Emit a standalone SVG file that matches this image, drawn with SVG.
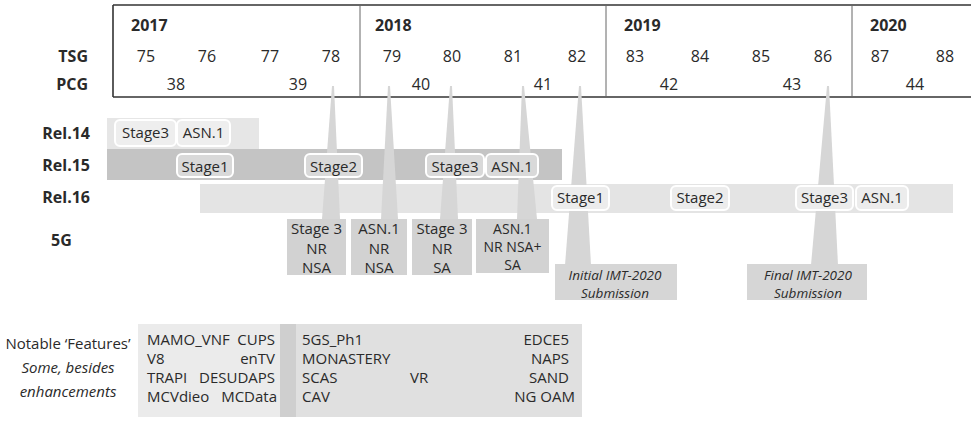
<svg xmlns="http://www.w3.org/2000/svg" width="971" height="421" viewBox="0 0 971 421">
<style>
text{font-family:"Open Sans","Noto Sans",sans-serif;fill:#2a2a2a}
.b{font-weight:bold;font-size:16px}
.h{font-size:16px;text-anchor:middle}
.y{font-weight:bold;font-size:16px}
.p{font-size:15px;text-anchor:middle}
.q{font-size:14px;text-anchor:middle}
.f{font-size:15px}
.i{font-size:13.5px;font-style:italic;text-anchor:middle}
.pill{stroke:#fff;stroke-width:2}
.wedge{fill:#d6d6d6}
.box{fill:#d2d2d2}
</style>
<rect width="971" height="421" fill="#fff"/>
<g id="header">
<line x1="113" y1="5" x2="971" y2="5" stroke="#333" stroke-width="1.6"/>
<line x1="113" y1="97" x2="971" y2="97" stroke="#333" stroke-width="1.6"/>
<line x1="113" y1="5" x2="113" y2="97" stroke="#333" stroke-width="1.6"/>
<line x1="360" y1="5" x2="360" y2="97" stroke="#666" stroke-width="1"/>
<line x1="606" y1="5" x2="606" y2="97" stroke="#666" stroke-width="1"/>
<line x1="852" y1="5" x2="852" y2="97" stroke="#666" stroke-width="1"/>
<text class="y" x="131" y="31">2017</text>
<text class="y" x="375" y="31">2018</text>
<text class="y" x="624" y="31">2019</text>
<text class="y" x="870" y="31">2020</text>
<text class="b" x="88" y="62" text-anchor="end">TSG</text>
<text class="b" x="88" y="90" text-anchor="end">PCG</text>
<text class="h" x="146" y="62">75</text>
<text class="h" x="207" y="62">76</text>
<text class="h" x="270" y="62">77</text>
<text class="h" x="331" y="62">78</text>
<text class="h" x="392" y="62">79</text>
<text class="h" x="452" y="62">80</text>
<text class="h" x="513" y="62">81</text>
<text class="h" x="577" y="62">82</text>
<text class="h" x="635" y="62">83</text>
<text class="h" x="700" y="62">84</text>
<text class="h" x="761" y="62">85</text>
<text class="h" x="823" y="62">86</text>
<text class="h" x="880" y="62">87</text>
<text class="h" x="945" y="62">88</text>
<text class="h" x="176" y="90">38</text>
<text class="h" x="298" y="90">39</text>
<text class="h" x="421" y="90">40</text>
<text class="h" x="543" y="90">41</text>
<text class="h" x="669" y="90">42</text>
<text class="h" x="792" y="90">43</text>
<text class="h" x="915" y="90">44</text>
</g>
<g id="rel14">
<text class="b" x="90" y="139" text-anchor="end">Rel.14</text>
<rect x="107" y="118" width="152" height="31" fill="#e6e6e6"/>
</g>
<g id="rel15">
<text class="b" x="90" y="171" text-anchor="end">Rel.15</text>
<rect x="107" y="149" width="455" height="31" fill="#c4c4c4"/>
</g>
<g id="rel16">
<text class="b" x="90" y="203" text-anchor="end">Rel.16</text>
<rect x="200" y="184" width="753" height="29" fill="#e4e4e4"/>
</g>
<g id="connectors">
<polygon class="wedge" points="332,86 334,86 340,219 322,219"/>
<polygon class="wedge" points="388,86 390,86 398,219 381,219"/>
<polygon class="wedge" points="450,86 452,86 458,219 440,219"/>
<polygon class="wedge" points="522,86 524,86 537,219 517,219"/>
<polygon class="wedge" points="579,86 581,86 591,265 565,265"/>
<polygon class="wedge" points="827,86 829,86 838,265 811,265"/>
</g>
<g id="rel14-pills">
<rect class="pill" x="115" y="120" width="61" height="26" rx="5" fill="#eeeeee"/>
<text class="p" x="145.5" y="138">Stage3</text>
<rect class="pill" x="177" y="120" width="53" height="26" rx="5" fill="#eeeeee"/>
<text class="p" x="203.5" y="138">ASN.1</text>
</g>
<g id="rel15-pills">
<rect class="pill" x="177" y="154" width="56" height="23" rx="5" fill="#d9d9d9"/>
<text class="p" x="205" y="172">Stage1</text>
<rect class="pill" x="305" y="154" width="57" height="23" rx="5" fill="#d9d9d9"/>
<text class="p" x="333.5" y="172">Stage2</text>
<rect class="pill" x="426" y="154" width="58" height="23" rx="5" fill="#d9d9d9"/>
<text class="p" x="455" y="172">Stage3</text>
<rect class="pill" x="486" y="154" width="52" height="23" rx="5" fill="#d9d9d9"/>
<text class="p" x="512" y="172">ASN.1</text>
</g>
<g id="rel16-pills">
<rect class="pill" x="552" y="186" width="57" height="24" rx="5" fill="#ececec"/>
<text class="p" x="580.5" y="203">Stage1</text>
<rect class="pill" x="671" y="186" width="58" height="24" rx="5" fill="#ececec"/>
<text class="p" x="700" y="203">Stage2</text>
<rect class="pill" x="796" y="186" width="57" height="24" rx="5" fill="#ececec"/>
<text class="p" x="824.5" y="203">Stage3</text>
<rect class="pill" x="856" y="186" width="52" height="24" rx="5" fill="#ececec"/>
<text class="p" x="882" y="203">ASN.1</text>
</g>
<g id="label-5g">
<text class="b" x="51" y="246">5G</text>
</g>
<g id="g5-stage3-nsa">
<rect class="box" x="287" y="219" width="59" height="56"/>
<text class="p" x="316.5" y="234">Stage 3</text>
<text class="p" x="316.5" y="254">NR</text>
<text class="p" x="316.5" y="273">NSA</text>
</g>
<g id="g5-asn1-nsa">
<rect class="box" x="351" y="219" width="56" height="56"/>
<text class="p" x="379" y="234">ASN.1</text>
<text class="p" x="379" y="254">NR</text>
<text class="p" x="379" y="273">NSA</text>
</g>
<g id="g5-stage3-sa">
<rect class="box" x="412" y="219" width="60" height="56"/>
<text class="p" x="442" y="234">Stage 3</text>
<text class="p" x="442" y="254">NR</text>
<text class="p" x="442" y="273">SA</text>
</g>
<g id="g5-asn1-nsasa">
<rect class="box" x="476" y="219" width="73" height="54"/>
<text class="q" x="512.5" y="234">ASN.1</text>
<text class="q" x="512.5" y="252">NR NSA+</text>
<text class="q" x="512.5" y="270">SA</text>
</g>
<g id="imt-initial">
<rect x="555" y="264" width="122" height="36" fill="#d6d6d6"/>
<text class="i" x="615" y="280">Initial IMT-2020</text>
<text class="i" x="615" y="298">Submission</text>
</g>
<g id="imt-final">
<rect x="747" y="264" width="120" height="36" fill="#d6d6d6"/>
<text class="i" x="808" y="280">Final IMT-2020</text>
<text class="i" x="808" y="298">Submission</text>
</g>
<g id="features-label">
<text class="f" x="68" y="349" text-anchor="middle">Notable ‘Features’</text>
<text class="f" x="68" y="373" text-anchor="middle" font-style="italic">Some, besides</text>
<text class="f" x="68" y="397" text-anchor="middle" font-style="italic">enhancements</text>
</g>
<g id="features-rel15">
<rect x="138" y="324" width="142" height="93" fill="#ebebeb"/>
<text class="f" x="147" y="345">MAMO_VNF</text>
<text class="f" x="275" y="345" text-anchor="end">CUPS</text>
<text class="f" x="147" y="364">V8</text>
<text class="f" x="275" y="364" text-anchor="end">enTV</text>
<text class="f" x="147" y="383">TRAPI</text>
<text class="f" x="275" y="383" text-anchor="end">DESUDAPS</text>
<text class="f" x="147" y="402">MCVdieo</text>
<text class="f" x="277" y="402" text-anchor="end">MCData</text>
</g>
<g id="features-rel16">
<rect x="280" y="324" width="16" height="93" fill="#cfcfcf"/>
<rect x="296" y="324" width="286" height="93" fill="#e0e0e0"/>
<text class="f" x="302" y="345">5GS_Ph1</text>
<text class="f" x="302" y="364">MONASTERY</text>
<text class="f" x="302" y="383">SCAS</text>
<text class="f" x="302" y="402">CAV</text>
<text class="f" x="410" y="383">VR</text>
<text class="f" x="569" y="345" text-anchor="end">EDCE5</text>
<text class="f" x="569" y="364" text-anchor="end">NAPS</text>
<text class="f" x="569" y="383" text-anchor="end">SAND</text>
<text class="f" x="575" y="402" text-anchor="end">NG OAM</text>
</g>
</svg>
